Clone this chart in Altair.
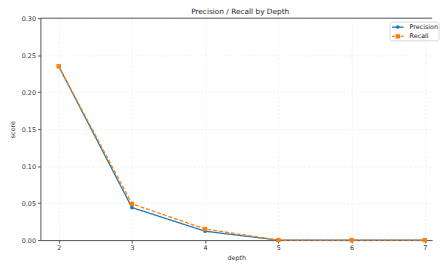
import altair as alt
import pandas as pd

depths = [2, 3, 4, 5, 6, 7]
precision = [0.235, 0.044, 0.012, 0.0, 0.0, 0.0]
recall = [0.235, 0.049, 0.015, 0.0, 0.0, 0.0]
series = ["Precision", "Recall"]
colors = ["#1f77b4", "#ff7f0e"]
title_text = "Precision / Recall by Depth"

rows = []
for d, p in zip(depths, precision):
    rows.append({"depth": d, "score": p, "metric": "Precision"})
for d, r in zip(depths, recall):
    rows.append({"depth": d, "score": r, "metric": "Recall"})
df = pd.DataFrame(rows)

W, H = 399, 226
FONT = "DejaVu Sans"

x = alt.X("depth:Q", title="depth",
          scale=alt.Scale(domain=[1.75, 7.1], nice=False, zero=False),
          axis=alt.Axis(values=depths, format="d"))
y = alt.Y("score:Q", title="score",
          scale=alt.Scale(domain=[0, 0.3], nice=False),
          axis=alt.Axis(values=[0, 0.05, 0.10, 0.15, 0.20, 0.25, 0.30], format=".2f"))

cscale = alt.Scale(domain=series, range=colors)

base = alt.Chart(df)
lines = base.mark_line(strokeWidth=1.3).encode(
    x=x, y=y, color=alt.Color("metric:N", scale=cscale, legend=None),
    strokeDash=alt.StrokeDash("metric:N", scale=alt.Scale(domain=series, range=[[1, 0], [4, 2]]), legend=None),
)
pprec = base.transform_filter("datum.metric == 'Precision'").mark_circle(size=14, opacity=1).encode(
    x=x, y=y, color=alt.Color("metric:N", scale=cscale, legend=None),
)
prec = base.transform_filter("datum.metric == 'Recall'").mark_square(size=20, opacity=1).encode(
    x=x, y=y, color=alt.Color("metric:N", scale=cscale, legend=None),
)

one = pd.DataFrame({"a": [0]})
top = alt.Chart(one).mark_rule(color="#555", strokeWidth=1).encode(
    x=alt.value(0), x2=alt.value(W), y=alt.value(0)
)
title = alt.Chart(one).mark_text(font=FONT, fontSize=7.5, color="#222", baseline="alphabetic", align="center").encode(
    x=alt.value(W / 2 + 4), y=alt.value(-4), text=alt.value(title_text)
)

# legend (decoration)
LX, LY = 356, 4
leg_layers = [
    alt.Chart(one).mark_rect(fill="white", stroke="#d0d0d0", strokeWidth=0.8, cornerRadius=2).encode(
        x=alt.value(LX), x2=alt.value(LX + 50), y=alt.value(LY), y2=alt.value(LY + 19)
    )
]
shapes = ["circle", "square"]
sizes = [14, 20]
dashes = [[1, 0], [3, 1.5]]
for i, name in enumerate(series):
    yy = LY + 5 + i * 9.5
    leg_layers.append(alt.Chart(one).mark_rule(color=colors[i], strokeWidth=1.3, strokeDash=dashes[i]).encode(
        x=alt.value(LX + 2), x2=alt.value(LX + 14), y=alt.value(yy)))
    leg_layers.append(alt.Chart(one).mark_point(shape=shapes[i], filled=True, size=sizes[i], opacity=1, color=colors[i]).encode(
        x=alt.value(LX + 8), y=alt.value(yy)))
    leg_layers.append(alt.Chart(one).mark_text(font=FONT, fontSize=6.5, color="#222", align="left", baseline="middle").encode(
        x=alt.value(LX + 20), y=alt.value(yy), text=alt.value(name)))

chart = alt.layer(lines, pprec, prec, top, title, *leg_layers).properties(
    width=W, height=H,
    autosize=alt.AutoSizeParams(type="none"),
    padding={"left": 33, "top": 8, "right": 8, "bottom": 24},
).configure_view(stroke=None).configure_axis(
    labelFont=FONT, titleFont=FONT, labelFontSize=6.5, titleFontSize=6.5,
    labelColor="#333", titleColor="#333", titleFontWeight="normal",
    domainColor="#555", tickColor="#555", tickSize=3, labelPadding=2,
    gridColor="#ececec", gridDash=[2, 2], gridWidth=0.7,
).configure_axisX(titlePadding=3).configure_axisY(titlePadding=6)

chart.save("out.html", embed_options={"renderer": "svg", "actions": False})
